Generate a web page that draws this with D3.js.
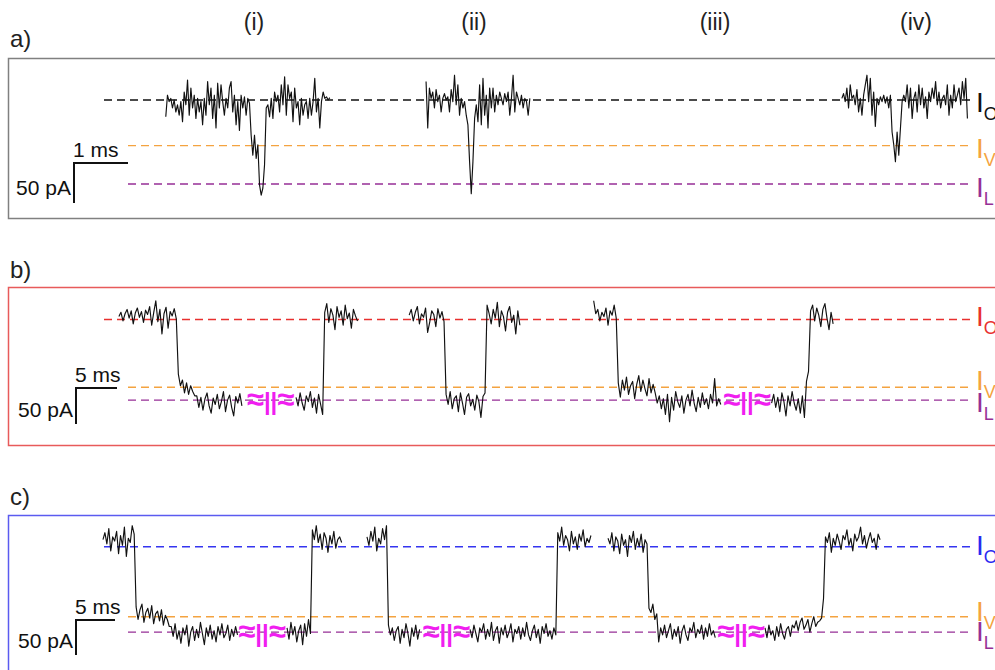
<!DOCTYPE html>
<html>
<head>
<meta charset="utf-8">
<script src="https://cdn.jsdelivr.net/npm/d3@7"></script>
<style>
  html, body { margin: 0; padding: 0; background: #fff; overflow: hidden; }
  svg { display: block; font-family: "Liberation Sans", Arial, sans-serif; }
</style>
</head>
<body>
<div id="chart"></div>
<script>
// current levels per panel (pA, open level = 0)
const levelsA = { O: 0, V: -57, L: -105 };
const levelsB = { O: 0, V: -94, L: -112 };
const levelsC = { O: 0, V: -100, L: -122 };

const columnLabels = ["(i)", "(ii)", "(iii)", "(iv)"];
const levelLabels = ["O", "V", "L"];

// scale bars: [ms, pA]
const scaleBarA = [1, 50];
const scaleBarB = [5, 50];
const scaleBarC = [5, 50];

// panel a: short events, each a list of samples (pA deviation from open level)
const eventsA = [
  { t0: 3.07, dt: 0.031, steps: [["O", 99]], noise: [
    -21, 6, -2, 2, -10, 0, -15, -6, -19, -2, -27, 10, -6, 25, -19, 15, -10, 6, -23, 2,
    -15, -2, -31, 2, -19, 23, -6, 15, -23, 6, -35, 21, -10, 19, -2, -19, 2, -10, 15, 23,
    -15, 6, -31, -2, -38, 6, -10, 4, -19, 2, -4, -44, -69, -44, -73, -56, -106, -119, -110, -81,
    -10, -6, -21, 2, -23, 10, -2, 6, -15, 19, -6, 29, -19, 19, 2, 10, -27, 15, -10, -2,
    -31, 2, -19, -6, -2, -23, 2, -19, -2, 27, -15, 2, -35, -2, 10, 2, 4, 0, 3] },
  { t0: 7.89, dt: 0.031, steps: [["O", 63]], noise: [
    23, -35, 15, 2, 10, -10, 13, -2, 6, -15, 2, 8, 0, 4, -15, 13, -2, 31, -6, 19,
    -19, 2, -10, -2, -19, -31, -77, -117, -77, -23, -6, -27, 19, -31, 27, -19, 6, -35, 15, -10,
    15, -15, 6, -6, 10, 2, -6, 8, -2, 10, -19, 2, 31, -15, 10, 2, -6, 6, -10, 2,
    -2, -19, 2] },
  { t0: 15.59, dt: 0.031, steps: [["O", 76]], noise: [
    2, 8, -2, 15, -10, 19, 2, 6, -6, 13, -15, 2, -19, 6, 19, 31, -2, 27, -19, 10,
    -33, 2, -6, 4, -2, 6, -4, 4, -10, 6, -40, -56, -77, -40, -69, -35, -2, 6, -2, 19,
    -10, 15, -23, 2, 10, -15, 19, -6, 15, -10, 4, -23, 10, -2, 15, 2, 23, -6, 10, -10,
    2, 6, -6, 19, -19, 6, -10, 19, -2, 6, 15, -6, 23, 2, 27, -23] }
];

// panel b: long blockades
const eventsB = [
  { t0: 14.5, dt: 0.25, steps: [["O", 29], ["V", 9], ["L", 23]], noise: [
    4, 10, -2, 8, 14, 2, 12, -6, 9, 16, 3, 11, -4, 13, 7, 18, -8, 10, 26, -3, 14, -20, 8, 17, -12, 11, 5, 15, 1,
    18, 2, 10, -8, 6, -10, 2, -6, -12,
    6, -10, 4, -14, 2, 10, -8, -18, 3, -6, 8, -12, -2, 12, -16, 0, 7, -10, -22, 5, -4, 9, -8] },
  { t0: 36.1, dt: 0.25, steps: [["L", 14], ["O", 17]], noise: [
    4, -8, 10, -4, -14, 6, -2, 12, -10, 3, -18, 8, -6, -20,
    10, 22, -4, 15, 6, -14, 18, 3, 12, -8, 20, 1, 9, -12, 14, 5, -2] },
  { t0: 49.9, dt: 0.25, steps: [["O", 18], ["L", 20], ["O", 17]], noise: [
    6, 14, -2, 10, 18, -6, 8, 3, 16, -18, -4, 12, 7, -10, 15, 2, 11, -3,
    8, -6, 12, -12, 2, 6, -16, 10, -4, -20, 4, 9, -8, 1, -14, 7, -2, -24, 5, 10,
    20, 8, -6, 14, 2, 24, -10, 12, 4, -16, 10, 18, -4, 6, -20, 12, -8] },
  { t0: 72.4, dt: 0.25, steps: [["O", 12], ["V", 18], ["L", 33]], noise: [
    26, 8, 14, -2, 10, 4, 16, -8, 12, 6, 20, 2,
    6, -14, 10, -4, 14, -10, 2, 8, -16, 4, 16, -6, 10, -2, -12, 12, -8, 4,
    10, -4, 6, -12, 2, -20, 8, -30, 4, -14, 12, -2, -10, 6, -18, 0, 8, -8, 14, -4, -16, 4, -10, 10, -6, 2, -12, 8, -4, 30, -8, 2, -6] },
  { t0: 94.1, dt: 0.25, steps: [["L", 17], ["V", 2], ["O", 12]], noise: [
    -4, 8, -10, 4, -16, 10, -2, -22, 6, -8, 12, -4, -14, 2, -18, 6, -24,
    8, 22,
    12, 20, -2, 16, 6, -10, 14, 22, 2, -14, 10, -6] }
];

// panel c
const eventsC = [
  { t0: 13.2, dt: 0.25, steps: [["O", 17], ["V", 18], ["L", 35]], noise: [
    10, 20, 4, 26, -6, 14, 8, 22, -10, 16, 2, 28, -14, 12, 6, 30, 18,
    14, -4, 10, 18, -8, 6, 12, -2, 16, -10, 4, 8, -6, 10, -12, 2, -4, -14,
    8, -6, 12, -10, 2, -16, 6, -4, 10, -20, 0, 8, -12, 4, -8, 14, -2, -18, 6, -6, 10, -10, 2, -14, 8, -4, 12, -8, -2, 10, -12, 4, -6, 8, -4] },
  { t0: 36.8, dt: 0.25, steps: [["L", 13], ["O", 16]], noise: [
    6, -10, 14, -4, 8, -14, 2, 10, -18, 12, -6, 18, -2,
    24, 10, 30, 6, 18, -4, 20, 12, -8, 16, 4, 22, -2, 10, 14, 6] },
  { t0: 47.05, dt: 0.25, steps: [["O", 11], ["L", 17]], noise: [
    14, 2, 22, 8, 28, -6, 12, 4, 26, 10, 30,
    10, -4, 6, -12, 2, 8, -16, 4, -8, 12, -2, -20, 6, -6, 10, -10, 4] },
  { t0: 60.26, dt: 0.25, steps: [["L", 45], ["O", 18]], noise: [
    4, -8, 10, -2, -14, 6, 0, 12, -10, 4, -6, 14, -12, 2, 8, -16, 6, -4, 10, -8, 0, 12, -14, 4, -2,
    8, -10, 6, -6, 14, -4, -12, 2, 10, -8, 4, -16, 8, -2, 12, -6, 2, -10, 6, -4,
    20, 8, 28, 2, 16, 10, -6, 22, 4, 14, -4, 18, 8, 24, 0, 12, 6, 16] },
  { t0: 77.95, dt: 0.25, steps: [["O", 21], ["V", 5], ["L", 30]], noise: [
    12, 4, 20, -6, 14, 8, -10, 18, 2, 10, -14, 16, 6, 22, -4, 12, 0, 18, -8, 10, 4,
    12, 6, 18, -4, 4,
    -14, 6, -4, 10, -8, 2, 12, -10, 4, -6, 8, -16, 2, 10, -4, -12, 6, 0, 14, -8, 4, -2, 10, -10, 6, -6, 12, -4, 2, -8] },
  { t0: 98.08, dt: 0.25, steps: [["L", 15], ["V", 16], ["O", 29]], noise: [
    6, -8, 10, -4, 2, -12, 8, -6, 12, -2, -10, 4, 8, -6, 10,
    -16, -6, -20, -8, -2, -18, -12, -4, -22, -10, 0, -14, -8, -6, -2, 26,
    14, 6, 20, -8, 12, 2, 18, 8, -4, 16, 10, 24, 2, 12, -6, 18, 8, 14, 28, 4, 16, -2, 10, 20, 6, 12, -4, 18, 10] }
];

// time-axis breaks (ms)
const breaksB = [33.0, 91.1];
const breaksC = [33.6, 57.2, 95.0];

const width = 995, height = 670;
const orange = "#f4a340", purple = "#962f96", magenta = "#f01ef0";

const panels = [
  { letter: "a)", letterY: 47, box: "#808080", top: 58, bottom: 218, yO: 100,
    pxPerMs: 54, pxPer50: 40, levels: levelsA, events: eventsA, breaks: [],
    bar: scaleBarA, barX: 74, barY: 163, labelO: "#111", lineO: "#111",
    labY: { O: 112, V: 158, L: 197 } },
  { letter: "b)", letterY: 278, box: "#e85a5a", top: 287, bottom: 445, yO: 319.5,
    pxPerMs: 8.2, pxPer50: 36, levels: levelsB, events: eventsB, breaks: breaksB,
    bar: scaleBarB, barX: 76, barY: 388, labelO: "#e8302f", lineO: "#e8302f",
    labY: { O: 326, V: 390, L: 412 } },
  { letter: "c)", letterY: 505, box: "#5b5bf0", top: 515, bottom: 700, yO: 546.7,
    pxPerMs: 7.8, pxPer50: 35, levels: levelsC, events: eventsC, breaks: breaksC,
    bar: scaleBarC, barX: 76, barY: 620, labelO: "#2a2af0", lineO: "#3535f0",
    labY: { O: 555, V: 621, L: 641 } }
];

const svg = d3.select("#chart").append("svg")
  .attr("width", width)
  .attr("height", height);

// column headers
const colX = [254, 474, 715, 916];
svg.selectAll(".col-label")
  .data(columnLabels)
  .enter()
  .append("text")
  .attr("class", "col-label")
  .attr("x", (d, i) => colX[i])
  .attr("y", 30)
  .attr("text-anchor", "middle")
  .style("font-size", "23px")
  .attr("fill", "#222")
  .text(d => d);

panels.forEach(p => {
  const x = d3.scaleLinear().domain([0, width / p.pxPerMs]).range([0, width]);
  const y = d3.scaleLinear().domain([0, -50]).range([p.yO, p.yO + p.pxPer50]);

  svg.append("text")
    .attr("x", 10)
    .attr("y", p.letterY)
    .style("font-size", "24px")
    .attr("fill", "#222")
    .text(p.letter);

  svg.append("rect")
    .attr("x", 8.5)
    .attr("y", p.top + 0.5)
    .attr("width", 1010)
    .attr("height", p.bottom - p.top)
    .attr("fill", "none")
    .attr("stroke", p.box)
    .attr("stroke-width", 1.5);

  // dashed level lines
  const lineColor = { O: p.lineO, V: orange, L: purple };
  const lineStart = { O: 104, V: 128, L: 128 };
  levelLabels.forEach(k => {
    svg.append("line")
      .attr("x1", lineStart[k])
      .attr("x2", 970)
      .attr("y1", y(p.levels[k]))
      .attr("y2", y(p.levels[k]))
      .attr("stroke", lineColor[k])
      .attr("stroke-width", 1.4)
      .attr("stroke-dasharray", "8,5");
  });

  // traces
  const line = d3.line()
    .x(d => x(d.t))
    .y(d => y(d.v));

  p.events.forEach(ev => {
    const pts = [];
    let i = 0;
    ev.steps.forEach(([lev, n]) => {
      for (let j = 0; j < n; j++, i++) {
        pts.push({ t: ev.t0 + i * ev.dt, v: p.levels[lev] + ev.noise[i] });
      }
    });
    svg.append("path")
      .datum(pts)
      .attr("d", line)
      .attr("fill", "none")
      .attr("stroke", "#111")
      .attr("stroke-width", 1.15)
      .attr("stroke-linejoin", "round");
  });

  // break marks  ≈||≈
  svg.selectAll(null)
    .data(p.breaks)
    .enter()
    .append("text")
    .attr("x", d => x(d))
    .attr("y", y(p.levels.L) + 10)
    .attr("text-anchor", "middle")
    .style("font-weight", "bold")
    .attr("fill", magenta)
    .each(function () {
      const t = d3.select(this);
      t.append("tspan").style("font-size", "31px").text("≈");
      t.append("tspan").style("font-size", "24px").text("||");
      t.append("tspan").style("font-size", "31px").text("≈");
    });

  // scale bar
  const [barMs, barPa] = p.bar;
  const bx = p.barX, by = p.barY;
  const bw = x(barMs) - x(0);
  const bh = y(-barPa) - y(0);
  svg.append("path")
    .attr("d", `M${bx + bw},${by} H${bx} V${by + bh}`)
    .attr("fill", "none")
    .attr("stroke", "#111")
    .attr("stroke-width", 2);
  svg.append("text")
    .attr("x", bx - 1)
    .attr("y", by - 6)
    .style("font-size", "21px")
    .attr("fill", "#111")
    .text(barMs + " ms");
  svg.append("text")
    .attr("x", bx - 3)
    .attr("y", by + bh * 0.8)
    .attr("text-anchor", "end")
    .style("font-size", "21px")
    .attr("fill", "#111")
    .text(barPa + " pA");

  // right-hand level labels
  const labColor = { O: p.labelO, V: orange, L: purple };
  levelLabels.forEach(k => {
    const t = svg.append("text")
      .attr("x", 976)
      .attr("y", p.labY[k])
      .attr("fill", labColor[k])
      .style("font-size", "28px")
      .text("I");
    t.append("tspan")
      .attr("dy", 8)
      .style("font-size", "18px")
      .text(k);
  });
});
</script>
</body>
</html>
